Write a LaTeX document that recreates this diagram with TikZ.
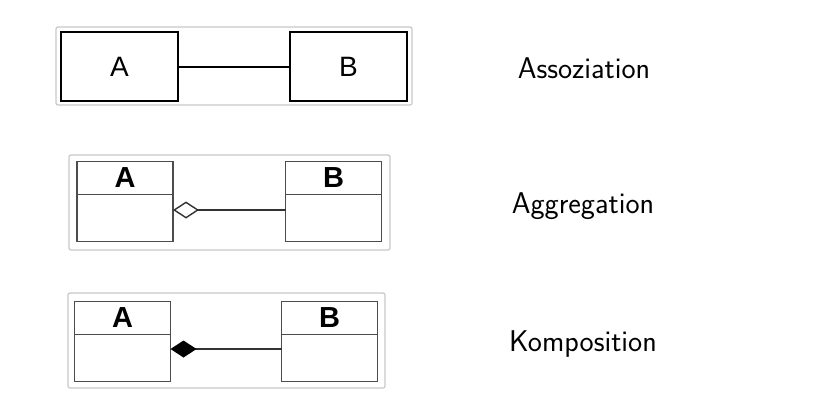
\documentclass[tikz,border=0pt]{standalone}
\usepackage{fontspec}
\newfontfamily\boxfont{Liberation Sans}
\usetikzlibrary{positioning,arrows.meta}

\tikzset{
  panel/.style={draw=black!22, line width=1.2pt, rounded corners=2pt},
  plainclass/.style={draw=black, line width=2.8pt, minimum width=117pt, minimum height=69pt,
    inner sep=0pt, font=\boxfont\fontsize{28}{32}\selectfont},
  classhead/.style={draw=black!70, line width=1.8pt, minimum width=96pt, minimum height=33pt,
    inner sep=0pt, outer sep=0pt, font=\boxfont\bfseries\fontsize{29}{32}\selectfont},
  classbody/.style={draw=black!70, line width=1.8pt, minimum width=96pt, minimum height=47pt,
    inner sep=0pt, outer sep=0pt},
  assoc/.style={draw=black, line width=2pt},
  link/.style={draw=black!80, line width=1.8pt},
  kind/.style={font=\sffamily\fontsize{30}{34}\selectfont},
}

\begin{document}
\begin{tikzpicture}[x=1pt, y=-1pt]
  \useasboundingbox (0,0) rectangle (826,416);

  % Assoziation
  \draw[panel] (56,27) rectangle (412,105);
  \node[plainclass] (A1) at (119.5,66.5) {A};
  \node[plainclass] (B1) at (348.5,66.5) {B};
  \draw[assoc] (A1) -- (B1);
  \node[kind] (L1) at (584,68) {Assoziation};

  % Aggregation
  \draw[panel] (69,155) rectangle (390,250);
  \node[classhead] (A2) at (125,178) {A};
  \node[classbody, below=0pt of A2] (A2b) {};
  \node[classhead] (B2) at (333.5,178) {B};
  \node[classbody, below=0pt of B2] (B2b) {};
  \draw[link, {Diamond[open, length=26pt, width=17pt, line width=1.4pt]}-]
    ([yshift=8pt]A2b.east) -- ([yshift=8pt]B2b.west);
  \node[kind] (L2) at (583,206) {Aggregation};

  % Komposition
  \draw[panel] (68,293) rectangle (385,388);
  \node[classhead] (A3) at (122.5,318) {A};
  \node[classbody, below=0pt of A3] (A3b) {};
  \node[classhead] (B3) at (329.5,318) {B};
  \node[classbody, below=0pt of B3] (B3b) {};
  \draw[link, {Diamond[length=26pt, width=17pt, color=black]}-]
    ([yshift=9pt]A3b.east) -- ([yshift=9pt]B3b.west);
  \node[kind] (L3) at (583,344) {Komposition};
\end{tikzpicture}
\end{document}
